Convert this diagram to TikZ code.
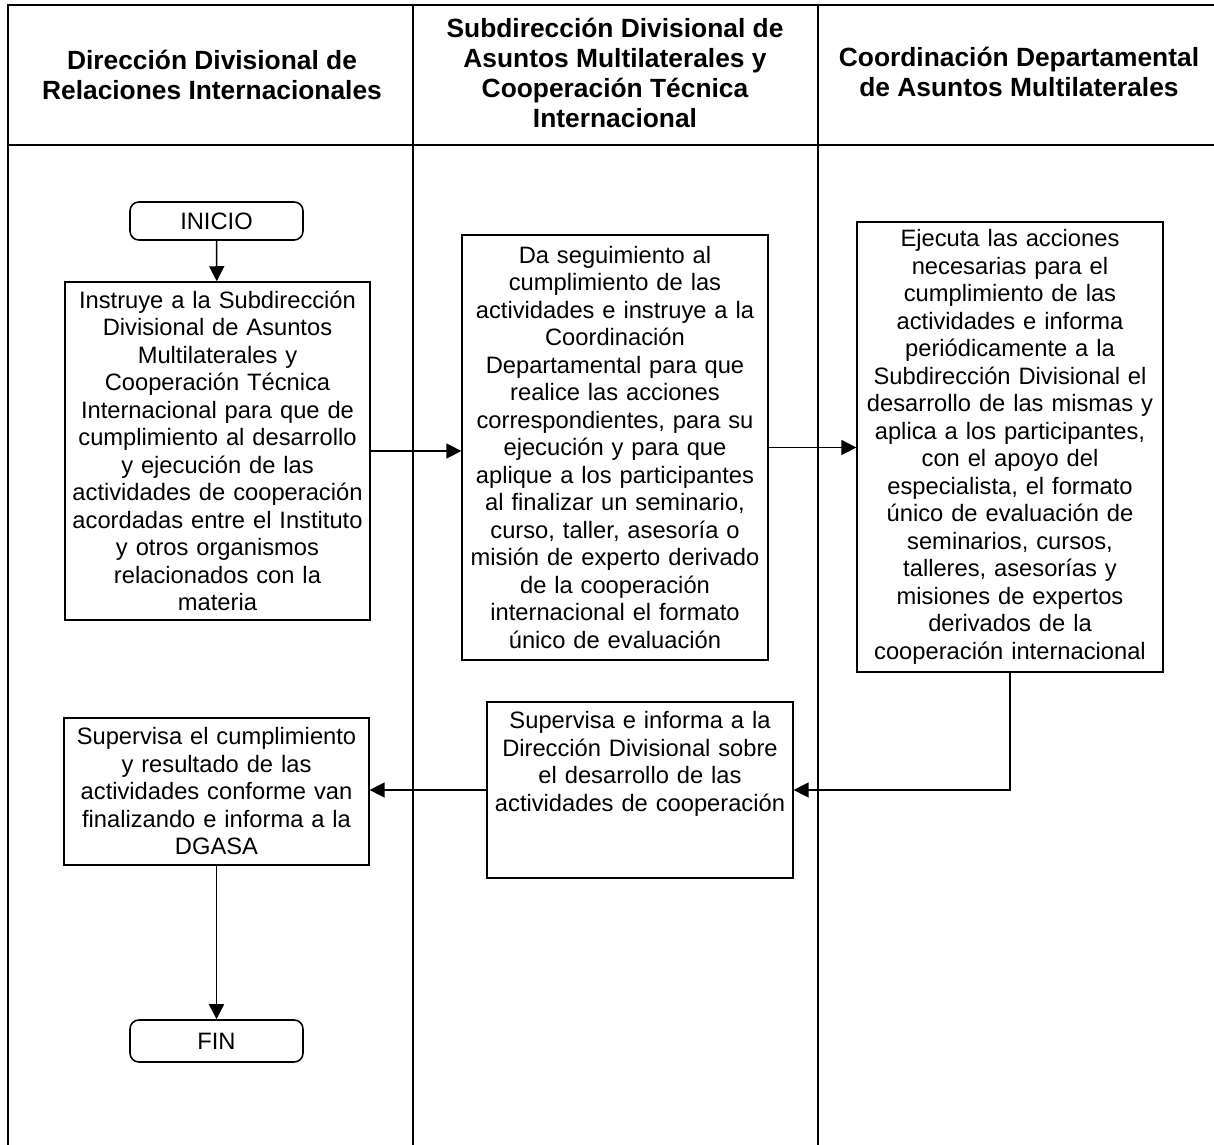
\documentclass[tikz,border=0pt]{standalone}
\usepackage{fontspec}
\setmainfont{Liberation Sans}
\usetikzlibrary{arrows.meta,positioning}

\begin{document}
\begin{tikzpicture}[x=0.02cm, y=-0.02cm,
    lane/.style={line width=0.9pt},
    box/.style={draw, line width=0.9pt, inner xsep=0.5pt, inner ysep=2pt, text width=6.06cm, align=center,
        font=\fontsize{13.5}{15.65}\selectfont},
    startend/.style={draw, line width=0.9pt, rounded corners=5pt, minimum width=3.46cm,
        font=\fontsize{13.5}{15.65}\selectfont},
    head/.style={align=center, font=\fontsize{15}{17.1}\selectfont\bfseries},
    arr/.style={-{Triangle[length=0.3cm, width=0.3cm]}, line width=0.9pt}]
    \useasboundingbox (0,0) rectangle (1214,1145);

    \draw[lane] (8,1145) -- (8,5) -- (1214,5);
    \draw[lane] (8,145) -- (1214,145);
    \draw[lane] (413,5) -- (413,1145);
    \draw[lane] (818,5) -- (818,1145);

    \node[head] (h1) at (212,75) {Dirección Divisional de\\Relaciones Internacionales};
    \node[head] (h2) at (615,73) {Subdirección Divisional de\\Asuntos Multilaterales y\\Cooperación Técnica\\Internacional};
    \node[head] (h3) at (1019,72) {Coordinación Departamental\\de Asuntos Multilaterales};

    \node[startend, minimum height=0.76cm] (inicio) at (216.5,221) {INICIO};
    \node[box, minimum height=6.76cm] (instruye) at (217.5,451) {Instruye a la Subdirección\\Divisional de Asuntos\\Multilaterales y\\Cooperación Técnica\\Internacional para que de\\cumplimiento al desarrollo\\y ejecución de las\\actividades de cooperación\\acordadas entre el Instituto\\y otros organismos\\relacionados con la\\materia};
    \node[box, text width=6.08cm, minimum height=8.5cm] (seguim) at (615,447.5) {Da seguimiento al\\cumplimiento de las\\actividades e instruye a la\\Coordinación\\Departamental para que\\realice las acciones\\correspondientes, para su\\ejecución y para que\\aplique a los participantes\\al finalizar un seminario,\\curso, taller, asesoría o\\misión de experto derivado\\de la cooperación\\internacional el formato\\único de evaluación};
    \node[box, text width=6.08cm, minimum height=9.0cm] (ejecuta) at (1010,447) {Ejecuta las acciones\\necesarias para el\\cumplimiento de las\\actividades e informa\\periódicamente a la\\Subdirección Divisional el\\desarrollo de las mismas y\\aplica a los participantes,\\con el apoyo del\\especialista, el formato\\único de evaluación de\\seminarios, cursos,\\talleres, asesorías y\\misiones de expertos\\derivados de la\\cooperación internacional};
    \node[box, text width=6.08cm, inner ysep=5.5pt, text depth=2.8cm] (supinf) at (640,790) {Supervisa e informa a la\\Dirección Divisional sobre\\el desarrollo de las\\actividades de cooperación};
    \node[box, minimum height=2.94cm] (supcum) at (216.5,791.5) {Supervisa el cumplimiento\\y resultado de las\\actividades conforme van\\finalizando e informa a la\\DGASA};
    \node[startend, minimum height=0.84cm] (fin) at (216.5,1041) {FIN};

    \draw[arr] (inicio) -- (instruye);
    \draw[arr] (instruye.east) -- (instruye.east -| seguim.west);
    \draw[arr] (seguim.east) -- (seguim.east -| ejecuta.west);
    \draw[arr] (ejecuta.south) |- (supinf.east);
    \draw[arr] (supinf.west) -- (supinf.west -| supcum.east);
    \draw[arr] (supcum) -- (fin);
\end{tikzpicture}
\end{document}
